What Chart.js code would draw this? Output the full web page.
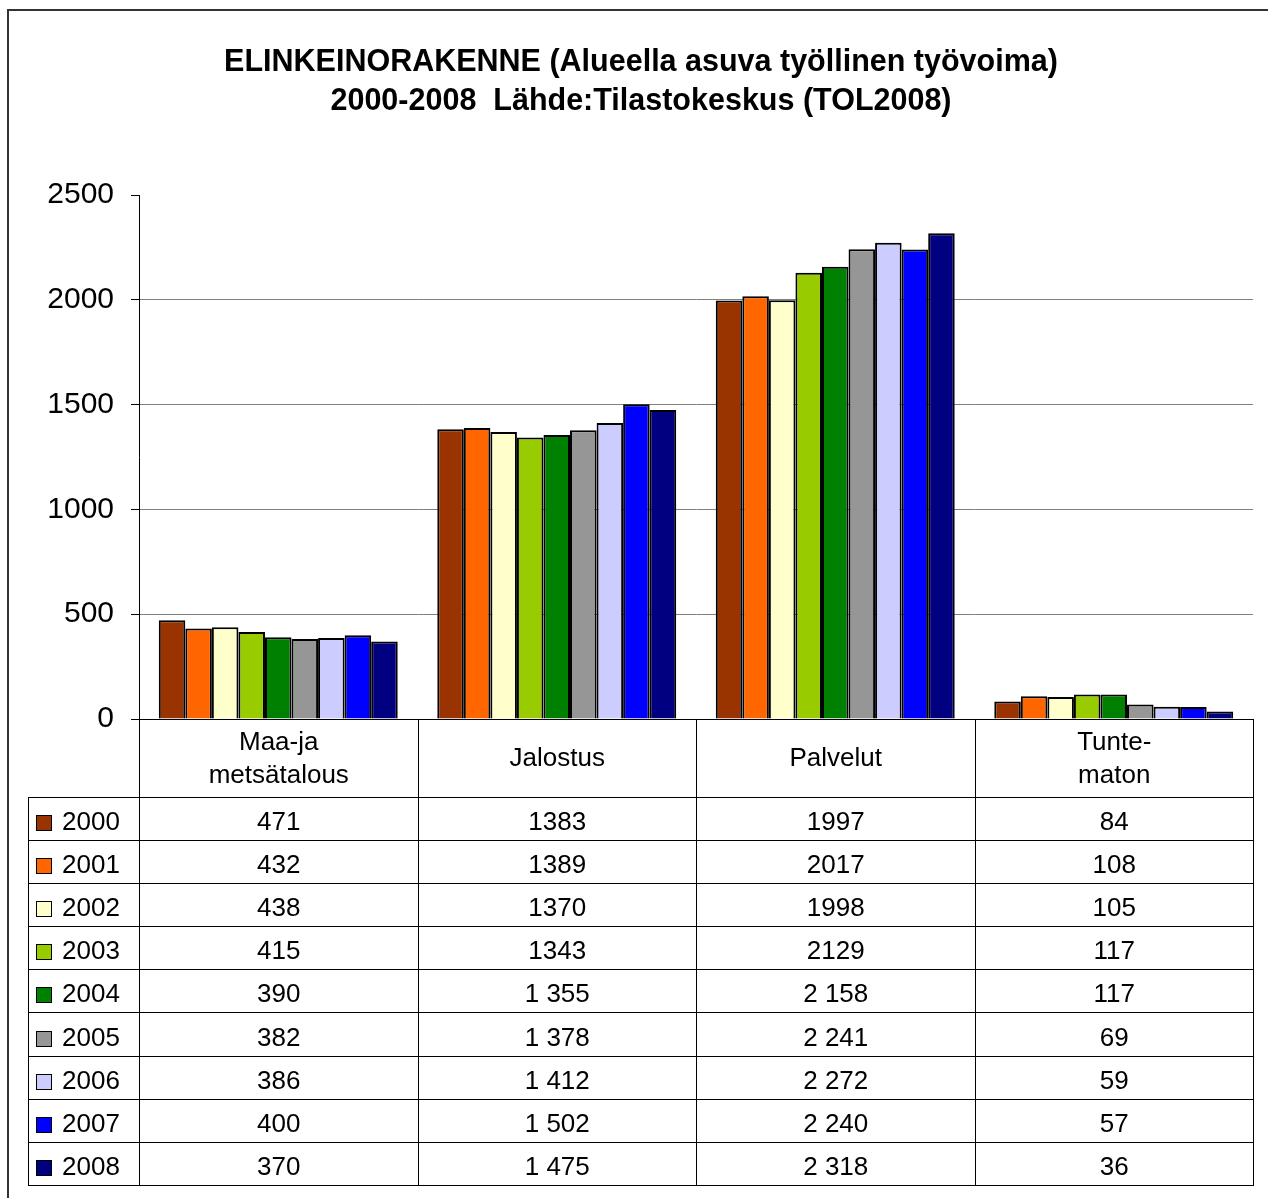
<!DOCTYPE html>
<html>
<head>
<meta charset="utf-8">
<script src="https://cdn.jsdelivr.net/npm/chart.js@4/dist/chart.umd.min.js"></script>
<style>
html,body{margin:0;padding:0;background:#fff;overflow:hidden;}
#wrap{position:relative;width:1268px;height:1198px;overflow:hidden;background:#fff;}
#frame{position:absolute;left:7px;top:9px;width:1400px;height:1400px;border-left:2px solid #333;border-top:2px solid #333;}
#cw{position:absolute;left:0;top:0;width:1268px;height:1198px;}
#tbl{position:absolute;border-collapse:collapse;table-layout:fixed;font-family:'Liberation Sans',Arial,sans-serif;font-size:26px;color:#000;}
#tbl td{border:1px solid #000;padding:0;text-align:center;vertical-align:middle;}
#tbl tr.head td{border-top:none;line-height:33px;}
#tbl tr.head td.corner{border-left:none;}
#tbl tr.data td{padding-top:5px;}
#tbl td.leg{text-align:left;padding-left:7px;white-space:nowrap;}
#tbl .key{display:inline-block;width:16px;height:16px;border:1.5px solid #000;box-sizing:border-box;margin-right:10px;vertical-align:-1px;}
</style>
</head>
<body>
<div id="wrap">
  <div id="frame"></div>
  <div id="cw"><canvas id="c"></canvas></div>
</div>
<script>
// ---- data ----
const titleLines = ['ELINKEINORAKENNE (Alueella asuva työllinen työvoima)', '2000-2008  Lähde:Tilastokeskus (TOL2008)'];
const categories = ['Maa-ja metsätalous', 'Jalostus', 'Palvelut', 'Tuntematon'];
const categoryLines = [['Maa-ja', 'metsätalous'], ['Jalostus'], ['Palvelut'], ['Tunte-', 'maton']];
const years = ['2000', '2001', '2002', '2003', '2004', '2005', '2006', '2007', '2008'];
const v2000 = [471, 1383, 1997, 84];
const v2001 = [432, 1389, 2017, 108];
const v2002 = [438, 1370, 1998, 105];
const v2003 = [415, 1343, 2129, 117];
const v2004 = [390, 1355, 2158, 117];
const v2005 = [382, 1378, 2241, 69];
const v2006 = [386, 1412, 2272, 59];
const v2007 = [400, 1502, 2240, 57];
const v2008 = [370, 1475, 2318, 36];
const seriesValues = [v2000, v2001, v2002, v2003, v2004, v2005, v2006, v2007, v2008];
const spaceGrouped = [false, false, false, false, true, true, true, true, true];
const colors = ['#993300', '#FF6600', '#FFFFCC', '#99CC00', '#008000', '#969696', '#CCCCFF', '#0000FF', '#000080'];
const yMin = 0, yMax = 2500, yStep = 500;

Chart.defaults.font.family = "'Liberation Sans', Arial, sans-serif";
Chart.defaults.color = '#000';

const datasets = years.map((y, i) => ({
  label: y,
  data: seriesValues[i],
  backgroundColor: colors[i],
  borderColor: '#000',
  borderWidth: 2,
  categoryPercentage: 0.858,
  barPercentage: 1.0
}));

const chart = new Chart(document.getElementById('c'), {
  type: 'bar',
  data: { labels: categories, datasets: datasets },
  options: {
    responsive: true,
    maintainAspectRatio: false,
    animation: false,
    layout: { padding: { left: 29, right: 15, top: 0, bottom: 0 } },
    plugins: {
      legend: { display: false },
      tooltip: { enabled: false },
      title: {
        display: true,
        text: titleLines,
        color: '#000',
        font: { size: 30.5, weight: 'bold', lineHeight: 1.28 },
        padding: { top: 43, bottom: 74 }
      }
    },
    scales: {
      x: {
        afterFit: s => { s.height = 479; },
        ticks: { display: false },
        grid: { display: true, drawOnChartArea: false, drawTicks: false },
        border: { display: true, color: '#000', width: 1 }
      },
      y: {
        min: yMin, max: yMax,
        afterFit: s => { s.width = 110; },
        ticks: { stepSize: yStep, font: { size: 30 }, color: '#000', padding: 17, callback: v => String(v) },
        grid: {
          drawTicks: true,
          tickLength: 8,
          tickColor: '#000',
          color: ctx => ctx.tick && ctx.tick.value === yMax ? 'rgba(0,0,0,0)' : (ctx.tick && ctx.tick.value === 0 ? '#000' : '#808080'),
          lineWidth: 1
        },
        border: { display: true, color: '#000', width: 1 }
      }
    }
  }
});

// ---- data table below the axis, aligned to the chart's scales ----
function fmt(v, grouped) {
  const s = String(v);
  return grouped ? s.replace(/\B(?=(\d{3})+(?!\d))/g, '\u00a0') : s;
}
const ca = chart.chartArea;
const tableLeft = 28;
const colW = (ca.right - ca.left) / categories.length;
const tbl = document.createElement('table');
tbl.id = 'tbl';
tbl.style.left = tableLeft + 'px';
tbl.style.top = ca.bottom + 'px';
tbl.style.width = (ca.right - tableLeft + 1) + 'px';
const cg = document.createElement('colgroup');
const c0 = document.createElement('col'); c0.style.width = (ca.left - tableLeft) + 'px'; cg.appendChild(c0);
categories.forEach(() => { const c = document.createElement('col'); c.style.width = colW + 'px'; cg.appendChild(c); });
tbl.appendChild(cg);
const head = document.createElement('tr'); head.className = 'head'; head.style.height = '78px';
const corner = document.createElement('td'); corner.className = 'corner'; head.appendChild(corner);
categoryLines.forEach(lines => { const td = document.createElement('td'); td.innerHTML = lines.join('<br>'); head.appendChild(td); });
tbl.appendChild(head);
years.forEach((y, i) => {
  const tr = document.createElement('tr'); tr.className = 'data'; tr.style.height = '43.2px';
  const lg = document.createElement('td'); lg.className = 'leg';
  const key = document.createElement('span'); key.className = 'key'; key.style.background = colors[i];
  lg.appendChild(key); lg.appendChild(document.createTextNode(y));
  tr.appendChild(lg);
  seriesValues[i].forEach(v => { const td = document.createElement('td'); td.textContent = fmt(v, spaceGrouped[i]); tr.appendChild(td); });
  tbl.appendChild(tr);
});
document.getElementById('wrap').appendChild(tbl);
</script>
</body>
</html>
